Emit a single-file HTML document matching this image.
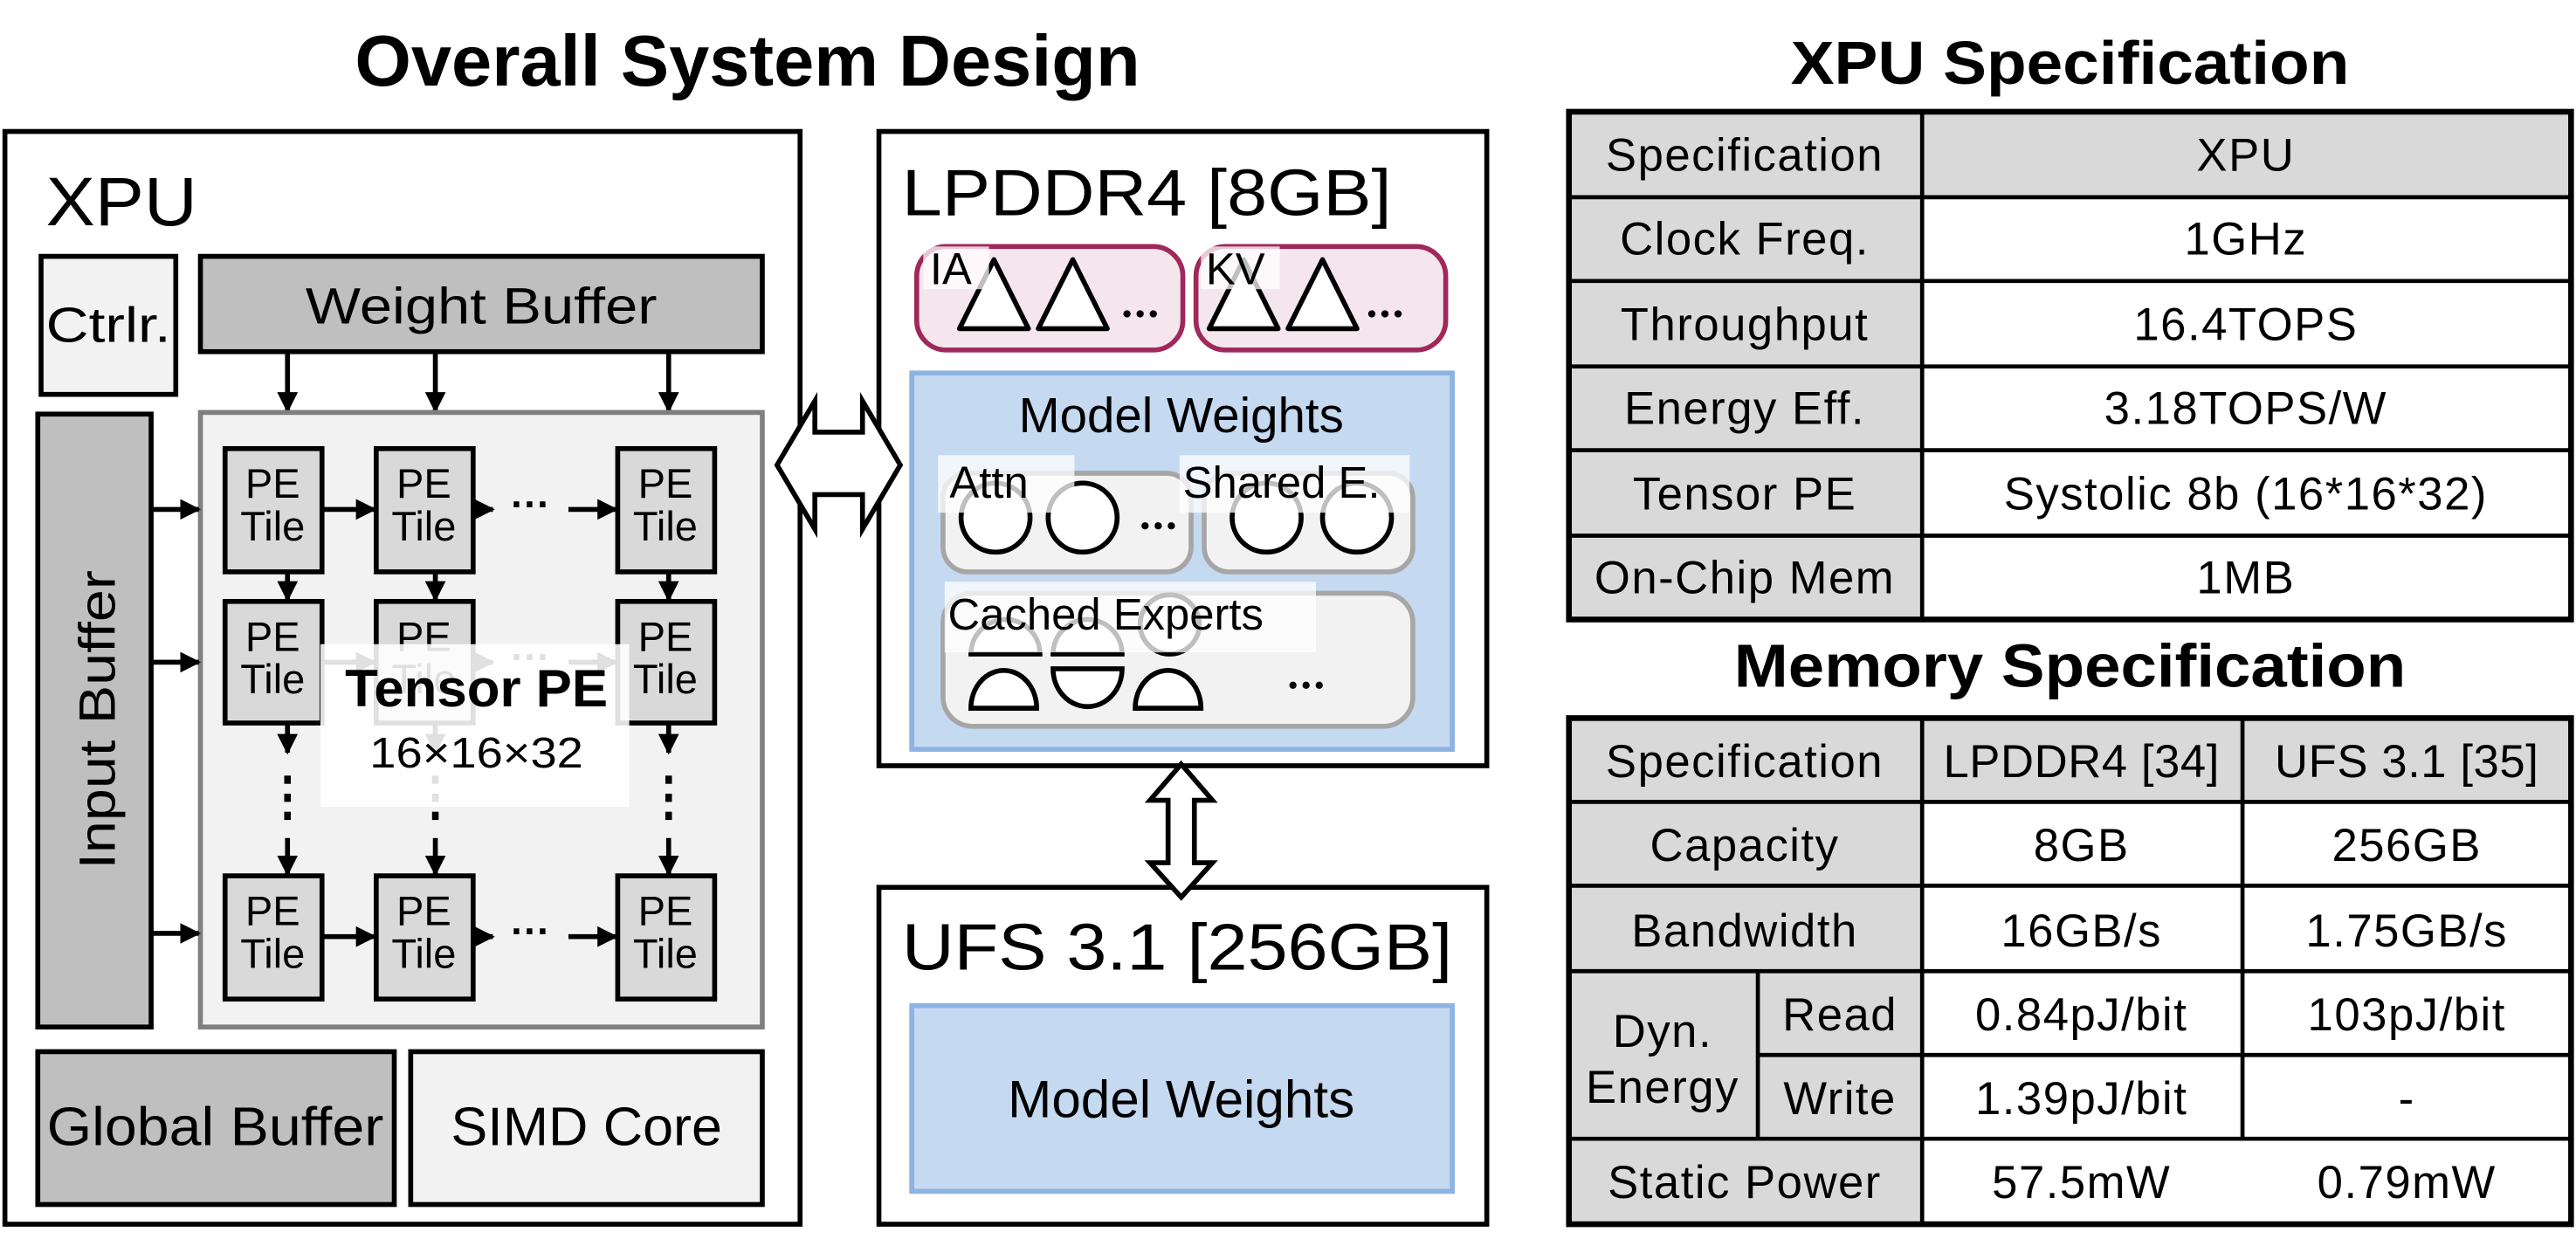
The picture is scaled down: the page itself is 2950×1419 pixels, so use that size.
<!DOCTYPE html>
<html><head><meta charset="utf-8"><style>
html,body{margin:0;padding:0;background:#fff;}
svg{display:block;}
text{font-family:"Liberation Sans",Arial,sans-serif;fill:#000;}
</style></head><body>
<svg width="2950" height="1419" viewBox="0 0 1568 754" preserveAspectRatio="none" xmlns="http://www.w3.org/2000/svg">
<defs>
<marker id="ah" viewBox="0 0 10 10" refX="9" refY="5" markerWidth="4.2" markerHeight="4.2" orient="auto" markerUnits="strokeWidth"><path d="M0,0 L10,5 L0,10 z" fill="#000"/></marker>
</defs>

<!-- Titles -->
<text x="455" y="52" font-size="44" font-weight="bold" text-anchor="middle" textLength="478" lengthAdjust="spacingAndGlyphs">Overall System Design</text>
<text x="1260" y="51" font-size="37" font-weight="bold" text-anchor="middle" textLength="340" lengthAdjust="spacingAndGlyphs">XPU Specification</text>
<text x="1260" y="418" font-size="37" font-weight="bold" text-anchor="middle" textLength="409" lengthAdjust="spacingAndGlyphs">Memory Specification</text>

<!-- XPU box -->
<rect x="3" y="80" width="484" height="665" fill="#fff" stroke="#000" stroke-width="3"/>
<text x="28" y="137" font-size="42" textLength="92" lengthAdjust="spacingAndGlyphs">XPU</text>
<rect x="25" y="156" width="82" height="84" fill="#f2f2f2" stroke="#000" stroke-width="3"/>
<text x="66" y="208" font-size="30" text-anchor="middle" textLength="76" lengthAdjust="spacingAndGlyphs">Ctrlr.</text>
<rect x="122" y="156" width="342" height="58" fill="#bfbfbf" stroke="#000" stroke-width="3"/>
<text x="293" y="197" font-size="31" text-anchor="middle" textLength="214" lengthAdjust="spacingAndGlyphs">Weight Buffer</text>
<g stroke="#000" stroke-width="3" marker-end="url(#ah)">
<line x1="175" y1="214" x2="175" y2="250"/><line x1="265" y1="214" x2="265" y2="250"/><line x1="407" y1="214" x2="407" y2="250"/>
</g>
<rect x="122" y="251" width="342" height="374" fill="#f2f2f2" stroke="#808080" stroke-width="3"/>
<rect x="23" y="252" width="69" height="373" fill="#bfbfbf" stroke="#000" stroke-width="3"/>
<text transform="translate(70,438) rotate(-90)" font-size="31" text-anchor="middle" textLength="182" lengthAdjust="spacingAndGlyphs">Input Buffer</text>
<g stroke="#000" stroke-width="3" marker-end="url(#ah)">
<line x1="92" y1="310" x2="121" y2="310"/><line x1="92" y1="403" x2="121" y2="403"/><line x1="92" y1="568" x2="121" y2="568"/>
</g>

<!-- PE tiles -->
<g fill="#d9d9d9" stroke="#000" stroke-width="3">
<rect x="137" y="273" width="59" height="75"/><rect x="229" y="273" width="59" height="75"/><rect x="376" y="273" width="59" height="75"/>
<rect x="137" y="366" width="59" height="74"/><rect x="229" y="366" width="59" height="74"/><rect x="376" y="366" width="59" height="74"/>
<rect x="137" y="533" width="59" height="75"/><rect x="229" y="533" width="59" height="75"/><rect x="376" y="533" width="59" height="75"/>
</g>
<g font-size="25" text-anchor="middle">
<text x="166" y="303">PE</text><text x="166" y="329">Tile</text>
<text x="258" y="303">PE</text><text x="258" y="329">Tile</text>
<text x="405" y="303">PE</text><text x="405" y="329">Tile</text>
<text x="166" y="396">PE</text><text x="166" y="422">Tile</text>
<text x="258" y="396">PE</text><text x="258" y="422">Tile</text>
<text x="405" y="396">PE</text><text x="405" y="422">Tile</text>
<text x="166" y="563">PE</text><text x="166" y="589">Tile</text>
<text x="258" y="563">PE</text><text x="258" y="589">Tile</text>
<text x="405" y="563">PE</text><text x="405" y="589">Tile</text>
</g>
<g stroke="#000" stroke-width="3" marker-end="url(#ah)">
<line x1="196" y1="310" x2="228" y2="310"/><line x1="288" y1="310" x2="300" y2="310"/><line x1="346" y1="310" x2="375" y2="310"/>
<line x1="196" y1="403" x2="228" y2="403"/><line x1="288" y1="403" x2="300" y2="403"/><line x1="346" y1="403" x2="375" y2="403"/>
<line x1="196" y1="570" x2="228" y2="570"/><line x1="288" y1="570" x2="300" y2="570"/><line x1="346" y1="570" x2="375" y2="570"/>
<line x1="175" y1="348" x2="175" y2="365"/><line x1="265" y1="348" x2="265" y2="365"/><line x1="407" y1="348" x2="407" y2="365"/>
<line x1="175" y1="440" x2="175" y2="458"/><line x1="265" y1="440" x2="265" y2="458"/><line x1="407" y1="440" x2="407" y2="458"/>
<line x1="175" y1="510" x2="175" y2="532"/><line x1="265" y1="510" x2="265" y2="532"/><line x1="407" y1="510" x2="407" y2="532"/>
</g>
<g font-size="24" text-anchor="middle" font-weight="bold">
<text x="323" y="315">···</text><text x="323" y="408">···</text><text x="323" y="575">···</text>
</g>
<g fill="#000">
<rect x="173" y="472" width="4" height="5"/><rect x="173" y="483" width="4" height="5"/><rect x="173" y="494" width="4" height="5"/>
<rect x="263" y="472" width="4" height="5"/><rect x="263" y="483" width="4" height="5"/><rect x="263" y="494" width="4" height="5"/>
<rect x="405" y="472" width="4" height="5"/><rect x="405" y="483" width="4" height="5"/><rect x="405" y="494" width="4" height="5"/>
</g>
<rect x="195" y="392" width="188" height="99" fill="#fff" opacity="0.88"/>
<text x="290" y="430" font-size="32" font-weight="bold" text-anchor="middle" textLength="160" lengthAdjust="spacingAndGlyphs">Tensor PE</text>
<text x="290" y="467" font-size="26" text-anchor="middle" textLength="130" lengthAdjust="spacingAndGlyphs">16×16×32</text>

<rect x="23" y="640" width="217" height="93" fill="#bfbfbf" stroke="#000" stroke-width="3"/>
<text x="131" y="697" font-size="33" text-anchor="middle" textLength="205" lengthAdjust="spacingAndGlyphs">Global Buffer</text>
<rect x="250" y="640" width="214" height="93" fill="#f2f2f2" stroke="#000" stroke-width="3"/>
<text x="357" y="697" font-size="33" text-anchor="middle" textLength="165" lengthAdjust="spacingAndGlyphs">SIMD Core</text>

<!-- LPDDR box -->
<rect x="535" y="80" width="370" height="386" fill="#fff" stroke="#000" stroke-width="3"/>
<text x="549" y="131" font-size="40" textLength="298" lengthAdjust="spacingAndGlyphs">LPDDR4 [8GB]</text>
<rect x="558" y="150" width="162" height="63" rx="18" fill="#f5e6ee" stroke="#a0285a" stroke-width="3"/>
<rect x="728" y="150" width="152" height="63" rx="18" fill="#f5e6ee" stroke="#a0285a" stroke-width="3"/>
<g fill="#fff" stroke="#000" stroke-width="3" stroke-linejoin="round">
<path d="M605,158 L584,200 L626,200 Z"/><path d="M653,158 L632,200 L674,200 Z"/>
<path d="M757,158 L736,200 L778,200 Z"/><path d="M805,158 L784,200 L826,200 Z"/>
</g>
<g fill="#000"><circle cx="686" cy="191" r="2.2"/><circle cx="694" cy="191" r="2.2"/><circle cx="702" cy="191" r="2.2"/>
<circle cx="835" cy="191" r="2.2"/><circle cx="843" cy="191" r="2.2"/><circle cx="851" cy="191" r="2.2"/></g>
<rect x="562" y="150" width="40" height="26" fill="#fff" opacity="0.75"/>
<text x="566" y="173" font-size="27">IA</text>
<rect x="731" y="150" width="48" height="26" fill="#fff" opacity="0.75"/>
<text x="734" y="173" font-size="27">KV</text>

<rect x="555" y="227" width="329" height="229" fill="#c5d9f1" stroke="#8db3e2" stroke-width="3"/>
<text x="719" y="263" font-size="30" text-anchor="middle">Model Weights</text>
<rect x="574" y="288" width="151" height="60" rx="15" fill="#f2f2f2" stroke="#a6a6a6" stroke-width="3"/>
<rect x="733" y="288" width="127" height="60" rx="15" fill="#f2f2f2" stroke="#a6a6a6" stroke-width="3"/>
<g fill="#fff" stroke="#000" stroke-width="3">
<circle cx="606" cy="315" r="21"/><circle cx="659" cy="315" r="21"/>
<circle cx="771" cy="315" r="21"/><circle cx="826" cy="315" r="21"/>
</g>
<g fill="#000"><circle cx="697" cy="320" r="2.2"/><circle cx="705" cy="320" r="2.2"/><circle cx="713" cy="320" r="2.2"/></g>
<rect x="571" y="277" width="83" height="35" fill="#fff" opacity="0.75"/>
<text x="578" y="303" font-size="27">Attn</text>
<rect x="718" y="277" width="140" height="35" fill="#fff" opacity="0.75"/>
<text x="720" y="303" font-size="27">Shared E.</text>

<rect x="574" y="361" width="286" height="81" rx="18" fill="#f2f2f2" stroke="#a6a6a6" stroke-width="3"/>
<g fill="#fff" stroke="#000" stroke-width="3">
<path d="M591,398 A21,21 0 0 1 633,398 Z"/>
<path d="M641,398 A21,21 0 0 1 683,398 Z"/>
<circle cx="712" cy="380" r="18"/>
<path d="M591,431 A20,23 0 0 1 631,431 Z"/>
<path d="M641,407 L683,407 A21,23 0 0 1 641,407 Z"/>
<path d="M691,431 A20,23 0 0 1 731,431 Z"/>
</g>
<g fill="#000"><circle cx="787" cy="417" r="2.2"/><circle cx="795" cy="417" r="2.2"/><circle cx="803" cy="417" r="2.2"/></g>
<rect x="575" y="354" width="226" height="43" fill="#fff" opacity="0.75"/>
<text x="577" y="383" font-size="27">Cached Experts</text>

<!-- UFS box -->
<rect x="535" y="540" width="370" height="205" fill="#fff" stroke="#000" stroke-width="3"/>
<text x="549" y="590" font-size="40" textLength="335" lengthAdjust="spacingAndGlyphs">UFS 3.1 [256GB]</text>
<rect x="555" y="612" width="329" height="113" fill="#c5d9f1" stroke="#8db3e2" stroke-width="3"/>
<text x="719" y="680" font-size="32" text-anchor="middle">Model Weights</text>

<!-- horizontal block arrow -->
<path d="M473,283 L496,244 L496,263 L525,263 L525,244 L548,283 L525,322 L525,301 L496,301 L496,322 Z" fill="#fff" stroke="#000" stroke-width="3" stroke-linejoin="miter"/>
<!-- vertical block arrow -->
<path d="M719,465 L738,487 L727,487 L727,525 L738,525 L719,546 L700,525 L711,525 L711,487 L700,487 Z" fill="#fff" stroke="#000" stroke-width="3" stroke-linejoin="miter"/>

<!-- XPU spec table -->
<g stroke="#000">
<rect x="955" y="68" width="215" height="309" fill="#d9d9d9" stroke-width="0"/>
<rect x="1170" y="68" width="395" height="52" fill="#d9d9d9" stroke-width="0"/>
<g stroke-width="2.5">
<line x1="955" y1="120" x2="1565" y2="120"/><line x1="955" y1="171" x2="1565" y2="171"/><line x1="955" y1="223" x2="1565" y2="223"/>
<line x1="955" y1="274" x2="1565" y2="274"/><line x1="955" y1="326" x2="1565" y2="326"/>
<line x1="1170" y1="68" x2="1170" y2="377"/>
</g>
<rect x="955" y="68" width="610" height="309" fill="none" stroke-width="3.5"/>
</g>
<g font-size="28" text-anchor="middle" letter-spacing="0.8">
<text x="1062" y="104">Specification</text><text x="1367" y="104">XPU</text>
<text x="1062" y="155">Clock Freq.</text><text x="1367" y="155">1GHz</text>
<text x="1062" y="207">Throughput</text><text x="1367" y="207">16.4TOPS</text>
<text x="1062" y="258">Energy Eff.</text><text x="1367" y="258">3.18TOPS/W</text>
<text x="1062" y="310">Tensor PE</text><text x="1367" y="310">Systolic 8b (16*16*32)</text>
<text x="1062" y="361">On-Chip Mem</text><text x="1367" y="361">1MB</text>
</g>

<!-- Memory spec table -->
<g stroke="#000">
<rect x="955" y="437" width="215" height="308" fill="#d9d9d9" stroke-width="0"/>
<rect x="1170" y="437" width="395" height="51" fill="#d9d9d9" stroke-width="0"/>
<g stroke-width="2.5">
<line x1="955" y1="488" x2="1565" y2="488"/><line x1="955" y1="539" x2="1565" y2="539"/><line x1="955" y1="591" x2="1565" y2="591"/>
<line x1="1070" y1="642" x2="1565" y2="642"/><line x1="955" y1="693" x2="1565" y2="693"/>
<line x1="1170" y1="437" x2="1170" y2="745"/><line x1="1365" y1="437" x2="1365" y2="693"/>
<line x1="1070" y1="591" x2="1070" y2="693"/>
</g>
<rect x="955" y="437" width="610" height="308" fill="none" stroke-width="3.5"/>
</g>
<g font-size="28" text-anchor="middle" letter-spacing="0.8">
<text x="1062" y="473">Specification</text><text x="1267" y="473" letter-spacing="0.3">LPDDR4 [34]</text><text x="1465" y="473" letter-spacing="0.3">UFS 3.1 [35]</text>
<text x="1062" y="524">Capacity</text><text x="1267" y="524">8GB</text><text x="1465" y="524">256GB</text>
<text x="1062" y="576">Bandwidth</text><text x="1267" y="576">16GB/s</text><text x="1465" y="576">1.75GB/s</text>
<text x="1012" y="637">Dyn.</text><text x="1012" y="671">Energy</text>
<text x="1120" y="627">Read</text><text x="1267" y="627">0.84pJ/bit</text><text x="1465" y="627">103pJ/bit</text>
<text x="1120" y="678">Write</text><text x="1267" y="678">1.39pJ/bit</text><text x="1465" y="678">-</text>
<text x="1062" y="729">Static Power</text><text x="1267" y="729">57.5mW</text><text x="1465" y="729">0.79mW</text>
</g>
</svg>
</body></html>
